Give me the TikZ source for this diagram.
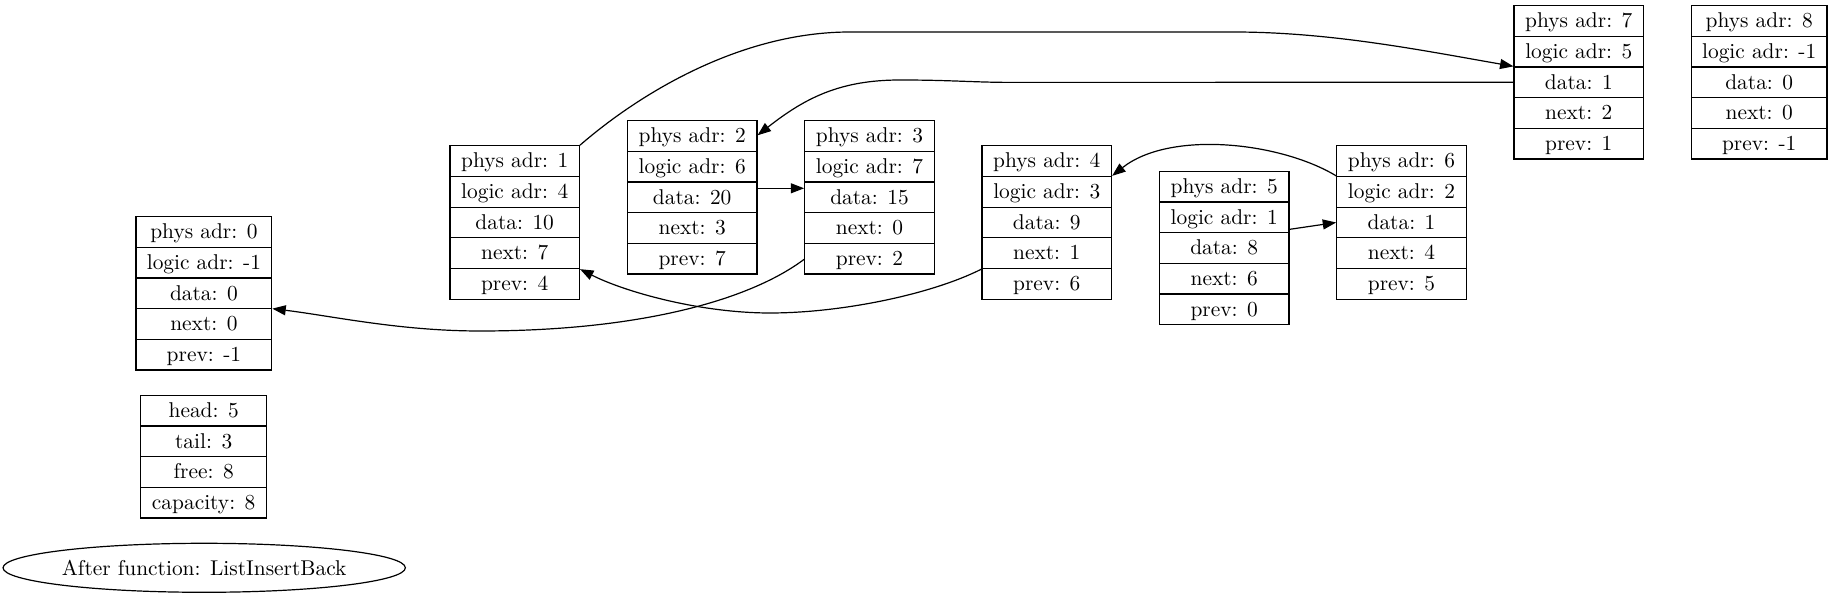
\documentclass[tikz,border=0pt]{standalone}
\usepackage{fontspec}
\usetikzlibrary{arrows.meta,positioning,calc,shapes.multipart,shapes.geometric}

\newcommand{\rs}{\rule[-4pt]{0pt}{14.75pt}}
\newcommand{\cells}[5]{\rs #1\nodepart{two}\rs #2\nodepart{three}\rs #3\nodepart{four}\rs #4\nodepart{five}\rs #5}

\begin{document}
\begin{tikzpicture}[x=0.5pt,y=-0.5pt,
    rec/.style={draw,line width=0.6pt,rectangle split,rectangle split parts=5,inner ysep=0pt,inner xsep=2pt,font=\fontsize{10.7}{12.8}\selectfont,minimum width=64.75pt},
    arrow/.style={-{Triangle[length=6.7pt,width=5pt]},line width=0.6pt}
  ]
  \useasboundingbox (0,0) rectangle (1832,597);

  \node[rec,minimum width=67.85pt] (n0) at (203.9,293.3) {\cells{phys adr: 0}{logic adr: -1}{data: 0}{next: 0}{prev: -1}};
  \node[rec,rectangle split parts=4,minimum width=63pt] (stats) at (203.7,456.7) {\rs head: 5\nodepart{two}\rs tail: 3\nodepart{three}\rs free: 8\nodepart{four}\rs capacity: 8};
  \node[draw,ellipse,line width=0.6pt,inner sep=0pt,minimum width=199.2pt,minimum height=24.5pt,font=\fontsize{10.7}{12.8}\selectfont] (title) at (204.2,567.8) {After function: ListInsertBack};

  \node[rec] (n1) at (514.7,222.5) {\cells{phys adr: 1}{logic adr: 4}{data: 10}{next: 7}{prev: 4}};
  \node[rec] (n2) at (692.2,197.3) {\cells{phys adr: 2}{logic adr: 6}{data: 20}{next: 3}{prev: 7}};
  \node[rec] (n3) at (869.5,197.3) {\cells{phys adr: 3}{logic adr: 7}{data: 15}{next: 0}{prev: 2}};
  \node[rec] (n4) at (1046.8,222.5) {\cells{phys adr: 4}{logic adr: 3}{data: 9}{next: 1}{prev: 6}};
  \node[rec] (n5) at (1224.2,248) {\cells{phys adr: 5}{logic adr: 1}{data: 8}{next: 6}{prev: 0}};
  \node[rec] (n6) at (1401.5,222.5) {\cells{phys adr: 6}{logic adr: 2}{data: 1}{next: 4}{prev: 5}};
  \node[rec] (n7) at (1578.8,82.3) {\cells{phys adr: 7}{logic adr: 5}{data: 1}{next: 2}{prev: 1}};
  \node[rec,minimum width=67.85pt] (n8) at (1759.2,82.3) {\cells{phys adr: 8}{logic adr: -1}{data: 0}{next: 0}{prev: -1}};

  % links between the records
  \draw[arrow] (n1.north east) .. controls (639,94) and (740,32) .. (850,32) -- (1233,32) .. controls (1330,32) and (1420,50) .. ($(n7.north west)+(0,61.4)$);
  \draw[arrow] (n7.west) -- (1010,82.4) .. controls (975,82.4) and (950,80) .. (900,80) .. controls (840,80) and (805,98) .. ($(n2.north east)+(0,15.35)$);
  \draw[arrow] ($(n2.east)+(0,-9)$) -- ($(n3.west)+(0,-9)$);
  \draw[arrow] ($(n3.south west)+(0,-15.35)$) .. controls (750,300) and (640,331) .. (480,331) .. controls (400,331) and (332,316) .. ($(n0.east)+(0,15.35)$);
  \draw[arrow] ($(n4.south west)+(0,-30.7)$) .. controls (930,295) and (840,313) .. (770,313) .. controls (700,313) and (625,292) .. ($(n1.south east)+(0,-30.7)$);
  \draw[arrow] ($(n6.north west)+(0,30.7)$) .. controls (1280,142) and (1170,130) .. ($(n4.north east)+(0,30.7)$);
  \draw[arrow] ($(n5.north east)+(0,58.7)$) -- (n6.west);
\end{tikzpicture}
\end{document}
